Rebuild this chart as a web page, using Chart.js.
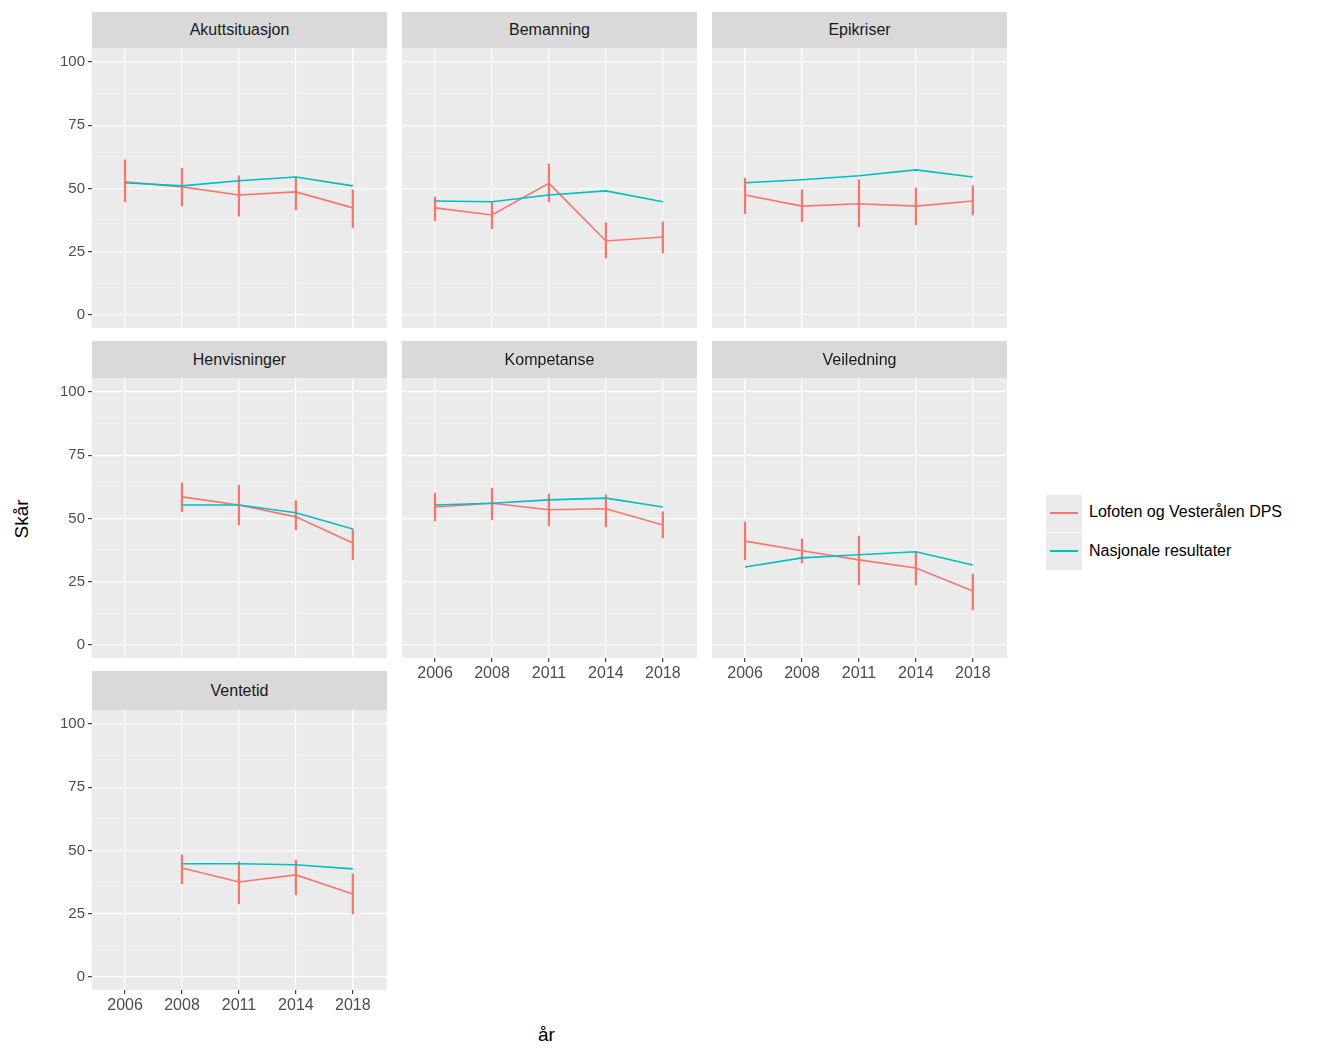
<!DOCTYPE html>
<html><head><meta charset="utf-8">
<script src="https://cdn.jsdelivr.net/npm/chart.js@4/dist/chart.umd.min.js"></script>
<style>
body{margin:0;background:#fff;font-family:"Liberation Sans",Arial,sans-serif;}
#wrap{position:relative;width:1344px;height:1050px;}
.strip{position:absolute;background:#d9d9d9;color:#1a1a1a;font-size:16px;text-align:center;box-sizing:border-box;z-index:2;}
canvas{position:absolute;}
.t{position:absolute;color:#000;font-size:19px;}
.key{position:absolute;width:36px;height:37px;background:#ebebeb;}
.key i{position:absolute;left:4px;right:4px;top:17px;height:2px;}
.lt{position:absolute;font-size:16px;color:#000;}
</style></head><body><div id="wrap"></div>
<script>
const years = ['2006','2008','2011','2014','2018'];
const panels = ['Akuttsituasjon','Bemanning','Epikriser','Henvisninger','Kompetanse','Veiledning','Ventetid'];
const local = [
  [52.6,50.6,47.4,48.6,42.3],
  [42.3,39.5,52,29.2,30.8],
  [47.4,43,43.9,43,45],
  [null,58.5,55.3,50.6,40.3],
  [54.5,56,53.4,53.8,47.4],
  [41,37.2,33.6,30.4,21.3],
  [null,43,37.5,40.3,32.8]
];
const localLow = [
  [44.7,43,39,41.5,34.4],
  [37.2,34,44.7,22.5,24.5],
  [40,36.8,34.8,35.6,39.5],
  [null,52.6,47.4,45.5,33.6],
  [49,49.4,47,46.6,42.3],
  [33.6,32.4,23.7,23.7,13.8],
  [null,36.8,28.9,32.4,24.9]
];
const localHigh = [
  [61.3,58,55,54.5,49.4],
  [46.6,44.3,59.7,36.4,36.8],
  [54,49.4,53.4,50.2,51],
  [null,64,63.2,57,45.5],
  [60,62,59.7,59.3,52.6],
  [48.6,41.9,43,36.8,28],
  [null,48.2,45.5,46.2,40.7]
];
const national = [
  [52.2,51,53,54.5,51],
  [45,44.7,47.4,49,44.7],
  [52.2,53.4,55,57.3,54.5],
  [null,55.3,55.3,52.2,45.8],
  [55.3,56,57.3,58,54.5],
  [30.8,34.4,35.6,36.8,31.6],
  [null,44.7,44.7,44.3,42.7]
];
const yTicks = [0,25,50,75,100];

const RED = '#F8766D', BLUE = '#00BFC4';
const colX = [92,402,712], rowY = [48,378,710];
const stripTop = [12,341,671];
const PW = 295, PH = 280, LEFT = 45, BOT = 32;
const wrap = document.getElementById('wrap');

const bg = {id:'bg',beforeDraw(c){const a=c.chartArea;c.ctx.save();c.ctx.fillStyle='#ebebeb';c.ctx.fillRect(a.left,a.top,a.right-a.left,a.bottom-a.top);c.ctx.restore();}};

panels.forEach((name,i)=>{
  const col=i%3,row=Math.floor(i/3);
  const showX = i>=4;
  const showY = col===0;
  const TOPPAD = showY ? 12 : 0;
  const s=document.createElement('div');s.className='strip';
  s.style.cssText=`left:${colX[col]}px;top:${stripTop[row]}px;width:${PW}px;height:${rowY[row]-stripTop[row]}px;line-height:${rowY[row]-stripTop[row]}px`;
  s.textContent=name;wrap.appendChild(s);
  const cv=document.createElement('canvas');
  cv.style.cssText=`left:${colX[col]-LEFT}px;top:${rowY[row]-TOPPAD}px;width:${PW+LEFT}px;height:${PH+BOT+TOPPAD}px`;
  cv.width=PW+LEFT;cv.height=PH+BOT+TOPPAD;wrap.appendChild(cv);
  const pts = arr=>arr.map((v,k)=>({x:k,y:v}));
  new Chart(cv,{
    data:{datasets:[
      {type:'bar',data:years.map((y,k)=>({x:k,y:localLow[i][k]==null?null:[localLow[i][k],localHigh[i][k]]})),backgroundColor:RED,barThickness:1.6,order:3},
      {type:'line',data:pts(national[i]),borderColor:BLUE,borderWidth:1.6,pointRadius:0,order:1},
      {type:'line',data:pts(local[i]),borderColor:RED,borderWidth:1.6,pointRadius:0,order:2}
    ]},
    options:{responsive:false,animation:false,events:[],layout:{padding:0},
      plugins:{legend:{display:false},tooltip:{enabled:false}},
      scales:{
        x:{type:'linear',offset:false,min:-0.58,max:4.6,afterFit(s){s.height=BOT;},
          afterBuildTicks(s){s.ticks=years.map((y,k)=>({value:k}));},
          border:{display:false},
          grid:{offset:false,color:'#fff',lineWidth:1.2,tickLength:4,tickColor:showX?'#444':'transparent'},
          ticks:{display:showX,color:'#4d4d4d',font:{size:16,family:'Liberation Sans'},padding:2,maxRotation:0,callback:(v)=>years[v]}},
        y:{min:-5.2,max:105.5,afterFit(s){s.width=LEFT;},
          afterBuildTicks(s){const t=[];for(let v=0;v<=100;v+=12.5)t.push({value:v});s.ticks=t;},
          border:{display:false},
          grid:{color:c=>c.tick.value%25===0?'#fff':'rgba(255,255,255,0.55)',lineWidth:c=>c.tick.value%25===0?1.2:0.6,tickLength:4,
            tickColor:c=>(showY&&c.tick.value%25===0)?'#444':'transparent'},
          ticks:{display:showY,color:'#4d4d4d',font:{size:15,family:'Liberation Sans'},padding:3,
            callback:v=>yTicks.includes(v)?String(v):''}}
      }},
    plugins:[bg]
  });
});

function add(html,css,cls){const d=document.createElement('div');d.className=cls;d.style.cssText=css;d.innerHTML=html;wrap.appendChild(d);}
add('Skår','left:2px;top:508px;transform:rotate(-90deg);','t');
add('år','left:538px;top:1024px;','t');
add('<i style="background:'+RED+'"></i>','left:1046px;top:495px;','key');
add('<i style="background:'+BLUE+'"></i>','left:1046px;top:533px;','key');
add('Lofoten og Vesterålen DPS','left:1089px;top:503px;','lt');
add('Nasjonale resultater','left:1089px;top:542px;','lt');
</script></body></html>
